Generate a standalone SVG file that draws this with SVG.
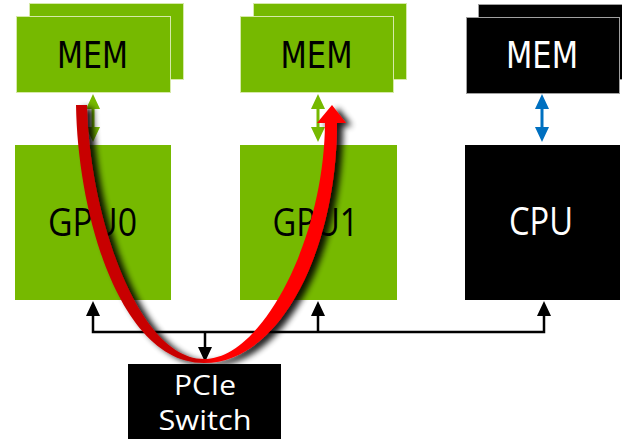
<svg xmlns="http://www.w3.org/2000/svg" width="622" height="439" viewBox="0 0 622 439">
<style>
.g{fill:#76b900}
.gm{fill:#76b900;stroke:#d6eaa8;stroke-width:1}
.k{fill:#000}
.km{fill:#000;stroke:#a0a0a0;stroke-width:1}
.mem{font-family:"DejaVu Sans",sans-serif;font-size:37px;text-anchor:middle}
.lbl{font-family:"Open Sans","Noto Sans",sans-serif;font-size:38px;text-anchor:middle}
.sw{font-family:"Open Sans","Noto Sans",sans-serif;font-size:27px;text-anchor:middle;fill:#fff}
.bus{fill:none;stroke:#000;stroke-width:2.5}
.gl{fill:none;stroke:#76b900;stroke-width:3}
.bl{fill:none;stroke:#0070c0;stroke-width:3}
</style>
<defs>
<marker id="ak" viewBox="0 0 15 14" refX="1" refY="7" markerWidth="15" markerHeight="14" markerUnits="userSpaceOnUse" orient="auto-start-reverse"><path d="M0,0 L15,7 L0,14 Z" fill="#000"/></marker>
<marker id="ag" viewBox="0 0 15 14" refX="1" refY="7" markerWidth="15" markerHeight="14" markerUnits="userSpaceOnUse" orient="auto-start-reverse"><path d="M0,0 L15,7 L0,14 Z" fill="#76b900"/></marker>
<marker id="ab" viewBox="0 0 15 14" refX="1" refY="7" markerWidth="15" markerHeight="14" markerUnits="userSpaceOnUse" orient="auto-start-reverse"><path d="M0,0 L15,7 L0,14 Z" fill="#0070c0"/></marker>
<linearGradient id="rg" gradientUnits="userSpaceOnUse" x1="76" y1="0" x2="346" y2="0">
<stop offset="0" stop-color="#c80000"/><stop offset="0.44" stop-color="#c80000"/><stop offset="0.52" stop-color="#ff0000"/><stop offset="1" stop-color="#ff0000"/>
</linearGradient>
<filter id="sh" x="-20%" y="-20%" width="150%" height="150%">
<feGaussianBlur in="SourceAlpha" stdDeviation="3"/>
<feOffset dx="6" dy="3" result="b"/>
<feComponentTransfer in="b" result="s"><feFuncA type="linear" slope="0.9"/></feComponentTransfer>
<feMerge><feMergeNode in="s"/><feMergeNode in="SourceGraphic"/></feMerge>
</filter>
</defs>
<g id="mem0">
<rect class="gm" x="29.5" y="3.5" width="154" height="76"/>
<rect class="gm" x="16.5" y="16.5" width="154" height="76"/>
<text class="mem" x="92.5" y="68" textLength="71" lengthAdjust="spacingAndGlyphs">MEM</text>
</g>
<g id="mem1">
<rect class="gm" x="253.5" y="3.5" width="153" height="76"/>
<rect class="gm" x="240.5" y="16.5" width="153" height="76"/>
<text class="mem" x="316.5" y="68" textLength="72" lengthAdjust="spacingAndGlyphs">MEM</text>
</g>
<g id="mem2">
<rect class="km" x="478.5" y="4.5" width="150" height="75"/>
<rect class="km" x="466.5" y="17.5" width="153" height="76"/>
<text class="mem" x="542" y="68" textLength="72" lengthAdjust="spacingAndGlyphs" fill="#fff">MEM</text>
</g>
<g id="gpu0">
<rect class="g" x="15" y="145" width="156" height="155"/>
<text class="lbl" x="92.5" y="236" textLength="89" lengthAdjust="spacingAndGlyphs">GPU0</text>
</g>
<g id="gpu1">
<rect class="g" x="240" y="145" width="157" height="155"/>
<text class="lbl" x="315.5" y="236" textLength="86" lengthAdjust="spacingAndGlyphs">GPU1</text>
</g>
<g id="cpu">
<rect class="k" x="465" y="145" width="155" height="155"/>
<text class="lbl" x="541" y="235" textLength="64" lengthAdjust="spacingAndGlyphs" fill="#fff">CPU</text>
</g>
<g id="pcie">
<rect class="k" x="128" y="364" width="153" height="75"/>
<text class="sw" x="205" y="395" textLength="62" lengthAdjust="spacingAndGlyphs">PCIe</text>
<text class="sw" x="205" y="430" textLength="93" lengthAdjust="spacingAndGlyphs">Switch</text>
</g>
<g id="connectors">
<path class="gl" d="M93,108 V128" marker-start="url(#ag)" marker-end="url(#ag)"/>
<path class="gl" d="M318,108 V128" marker-start="url(#ag)" marker-end="url(#ag)"/>
<path class="bl" d="M542,108 V128" marker-start="url(#ab)" marker-end="url(#ab)"/>
<path class="bus" d="M93,315 V332 H544 V315" marker-start="url(#ak)" marker-end="url(#ak)"/>
<path class="bus" d="M318,332 V315" marker-end="url(#ak)"/>
<path class="bus" d="M205,332 V348" marker-end="url(#ak)"/>
</g>
<g id="transfer">
<path d="M76,105 C78,220 122,363 204,363 C280,363 337,250 337,123 L346,123 L332,105 L317,123 L325,123 C324,240 262,359 204,359 C138,359 89,215 87,105 Z" fill="url(#rg)" filter="url(#sh)"/>
</g>
</svg>
